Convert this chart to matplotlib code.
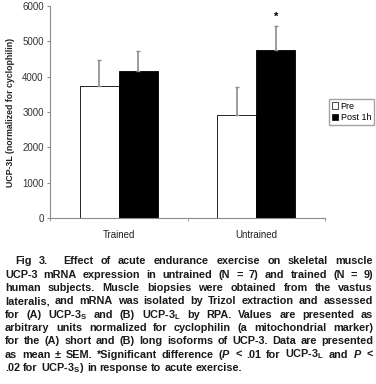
import numpy as np
import matplotlib
matplotlib.use("Agg")
import matplotlib.pyplot as plt
from matplotlib.patches import Patch

plt.rcParams['font.family'] = ['Liberation Sans', 'DejaVu Sans']
plt.rcParams['mathtext.fontset'] = 'custom'
plt.rcParams['mathtext.bf'] = 'Liberation Sans:bold'
plt.rcParams['mathtext.it'] = 'Liberation Sans:italic:bold'
plt.rcParams['mathtext.rm'] = 'Liberation Sans:bold'

groups = ["Trained", "Untrained"]
pre_vals = [3750, 2920]
post_vals = [4150, 4750]
pre_err = [730, 800]
post_err = [580, 680]
star_group = 1
star_y = 5700

caption = [
    "Fig 3.  Effect of acute endurance exercise on skeletal muscle",
    "UCP-3 mRNA expression in untrained (N = 7) and trained (N = 9)",
    "human subjects. Muscle biopsies were obtained from the vastus",
    "lateralis, and mRNA was isolated by Trizol extraction and assessed",
    r"for (A) UCP-3$_\mathbf{S}$ and (B) UCP-3$_\mathbf{L}$ by RPA. Values are presented as",
    "arbitrary units normalized for cyclophilin (a mitochondrial marker)",
    "for the (A) short and (B) long isoforms of UCP-3. Data are presented",
    r"as mean ± SEM. *Significant difference ($P$ < .01 for UCP-3$_\mathbf{L}$ and $P$ <",
    r".02 for UCP-3$_\mathbf{S}$) in response to acute exercise.",
]

W, H = 376, 384
fig = plt.figure(figsize=(W / 100, H / 100), dpi=100)
ax = fig.add_axes([50 / W, 1 - 218 / H, 275 / W, 212 / H])

x = np.arange(len(groups))
bw = 0.285
grey = '#8c8c8c'
ax.bar(x - bw / 2, pre_vals, bw, color='white', edgecolor='black', linewidth=0.6)
ax.bar(x + bw / 2, post_vals, bw, color='black', edgecolor='black', linewidth=0.6)
ax.errorbar(x - bw / 2, pre_vals, yerr=[np.zeros(2), pre_err], fmt='none',
            ecolor=grey, elinewidth=1.2, capsize=1.5, capthick=1.0)
ax.errorbar(x + bw / 2, post_vals, yerr=[np.zeros(2), post_err], fmt='none',
            ecolor=grey, elinewidth=1.2, capsize=1.5, capthick=1.0)
ax.text(x[star_group] + bw / 2, star_y, '*', ha='center', va='center',
        fontsize=8, fontweight='bold')

ax.set_xlim(-0.5, len(groups) - 0.5)
ax.set_ylim(0, 6000)
ax.set_yticks(np.arange(0, 6001, 1000))
ax.set_xticks(x)
ax.set_xticklabels(groups, fontsize=7, color='#222222')
ax.set_xticks(np.arange(-0.5, len(groups), 1), minor=True)
ax.tick_params(axis='x', which='major', length=0, pad=9)
ax.tick_params(axis='x', which='minor', length=2.5, color=grey, direction='out')
ax.tick_params(axis='y', length=2.5, color=grey, labelsize=7, labelcolor='#333333', pad=2)
for s in ['top', 'right']:
    ax.spines[s].set_visible(False)
for s in ['left', 'bottom']:
    ax.spines[s].set_color(grey)
    ax.spines[s].set_linewidth(0.8)
ax.set_ylabel('UCP-3L (normalized for cyclophilin)', fontsize=6.3,
              fontweight='bold', color='#222222', labelpad=5)

handles = [Patch(facecolor='white', edgecolor='black', linewidth=0.5, label='Pre'),
           Patch(facecolor='black', edgecolor='black', linewidth=0.5, label='Post 1h')]
fig.legend(handles=handles, loc='upper left', bbox_to_anchor=(329 / W, 1 - 99 / H),
           fontsize=6.5, frameon=True, fancybox=False, edgecolor=grey,
           handlelength=0.7, handleheight=0.7, handletextpad=0.3,
           borderpad=0.3, labelspacing=0.3, borderaxespad=0)

# caption, justified by placing words one by one
cap_size = 7.8
left, right = 5, 373
base0, step = 264.5, 13.3
fig.canvas.draw()
r = fig.canvas.get_renderer()
for i, line in enumerate(caption):
    words = line.split(' ')
    start = 15 if i == 0 else left
    y = 1 - (base0 + i * step) / H
    ts = [fig.text(0, y, w, fontsize=cap_size, fontweight='bold', color='#1a1a1a',
                   va='baseline', ha='left') for w in words]
    ws = [t.get_window_extent(r).width for t in ts]
    if i < len(caption) - 1:
        gap = (right - start - sum(ws)) / (len(words) - 1)
    else:
        gap = cap_size * 100 / 72 * 0.28
    xp = start
    for t, w in zip(ts, ws):
        t.set_x(xp / W)
        xp += w + gap

fig.savefig('out.png', dpi=100)
